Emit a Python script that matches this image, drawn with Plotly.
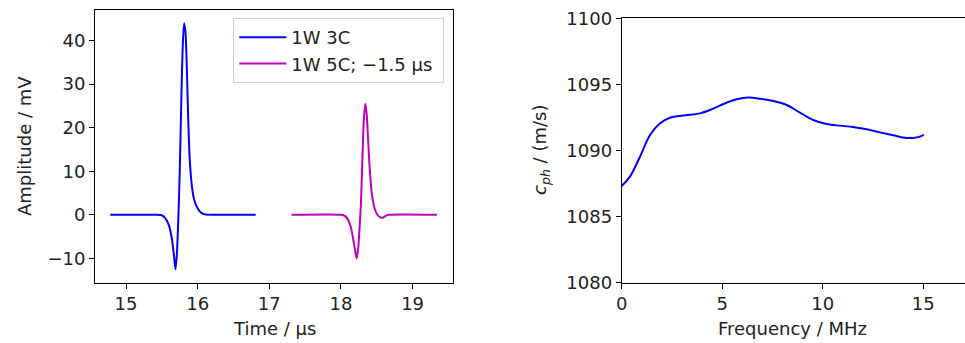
import plotly.graph_objects as go

# Left panel: signals
t_3c = [14.78, 15.40, 15.50, 15.55, 15.60, 15.64, 15.67, 15.69, 15.71, 15.73, 15.75, 15.77,
        15.79, 15.81, 15.83, 15.85, 15.87, 15.89, 15.92, 15.95, 15.99, 16.04, 16.10, 16.20, 16.81]
a_3c = [0, 0, -0.1, -0.8, -2.5, -5.5, -9.5, -12.5, -9, -1, 10, 25,
        38, 44, 42, 33, 21, 12.5, 6.5, 3.5, 1.8, 0.6, 0.1, 0, 0]

t_5c = [17.31, 18.00, 18.06, 18.10, 18.14, 18.17, 18.20, 18.22, 18.24, 18.26, 18.28, 18.30,
        18.32, 18.34, 18.36, 18.38, 18.40, 18.43, 18.47, 18.51, 18.55, 18.58, 18.62, 18.66, 19.34]
a_5c = [0, 0, -0.3, -1.2, -3, -5.5, -8.5, -10, -8, -3, 3, 13,
        22, 25.5, 23, 17, 11, 5, 1.5, 0, -0.6, -0.7, -0.3, 0, 0]

# Right panel: phase velocity
freq = [0.0, 0.41, 0.91, 1.41, 1.91, 2.40, 3.07, 3.90, 4.39, 5.06, 5.72, 6.30, 6.88, 7.54,
        8.21, 8.87, 9.53, 10.03, 10.69, 11.52, 12.18, 12.85, 13.51, 14.17, 14.50, 14.84, 15.03]
cph = [1087.31, 1088.02, 1089.53, 1091.17, 1092.06, 1092.48, 1092.64, 1092.81, 1093.06,
       1093.52, 1093.87, 1094.0, 1093.92, 1093.75, 1093.44, 1092.86, 1092.31, 1092.06,
       1091.90, 1091.78, 1091.60, 1091.37, 1091.15, 1090.95, 1090.95, 1091.05, 1091.20]

W, H = 965, 343
FONT = "DejaVu Sans"
FS = 18
TXT = "#222222"

fig = go.Figure()
fig.add_trace(go.Scatter(x=t_3c, y=a_3c, mode="lines", name="1W 3C", legendgroup="a",
                         line=dict(color="#0000ff", width=2, shape="spline", smoothing=0.6),
                         xaxis="x", yaxis="y"))
fig.add_trace(go.Scatter(x=t_5c, y=a_5c, mode="lines", name="1W 5C; \u22121.5 \u00b5s ", legendgroup="b",
                         line=dict(color="#bf00bf", width=2, shape="spline", smoothing=0.6),
                         xaxis="x", yaxis="y"))
fig.add_trace(go.Scatter(x=freq, y=cph, mode="lines", showlegend=False,
                         line=dict(color="#0000ff", width=2, shape="spline", smoothing=1.0),
                         xaxis="x2", yaxis="y2"))

axcommon = dict(showgrid=False, zeroline=False, showline=True, linecolor="black", linewidth=1,
                ticks="outside", ticklen=5, tickcolor="black", tickwidth=1, automargin=False,
                tickfont=dict(family=FONT, size=FS, color=TXT))

fig.update_layout(
    width=W, height=H,
    margin=dict(l=0, r=0, t=0, b=0, pad=0, autoexpand=False),
    paper_bgcolor="white", plot_bgcolor="white",
    font=dict(family=FONT, size=FS, color=TXT),
    xaxis=dict(domain=[95/W, 452.7/W], range=[14.567, 19.56], tickvals=[15, 16, 17, 18, 19],
               mirror=True, anchor="y", **axcommon),
    yaxis=dict(domain=[1-282.7/H, 1-10/H], range=[-15.6, 47.04], tickvals=[-10, 0, 10, 20, 30, 40],
               mirror=True, anchor="x", **axcommon),
    xaxis2=dict(domain=[621.7/W, 1.0], range=[0, 17.08], tickvals=[0, 5, 10, 15],
                mirror=True, anchor="y2", **axcommon),
    yaxis2=dict(domain=[1-282.7/H, 1-18.3/H], range=[1080, 1100],
                tickvals=[1080, 1085, 1090, 1095, 1100], anchor="x2", **axcommon),
    legend=dict(x=233.3/W, y=1-18/H, xanchor="left", yanchor="top",
                bgcolor="rgba(255,255,255,0.8)", bordercolor="#d0d0d0", borderwidth=1,
                font=dict(family=FONT, size=FS, color=TXT), itemwidth=47,
                tracegroupgap=0),
    showlegend=True,
)

annots = [
    dict(text="Amplitude / mV", x=25/W, y=1-146/H, textangle=-90),
    dict(text="Time / \u00b5s", x=274/W, y=1-328/H),
    dict(text="<i>c</i><sub><i>ph</i></sub> / (m/s)", x=541/W, y=1-150/H, textangle=-90),
    dict(text="Frequency / MHz", x=792/W, y=1-328/H),
]
for a in annots:
    fig.add_annotation(xref="paper", yref="paper", showarrow=False,
                       xanchor="center", yanchor="middle",
                       font=dict(family=FONT, size=FS, color=TXT), **a)

fig.write_html("out.html")
